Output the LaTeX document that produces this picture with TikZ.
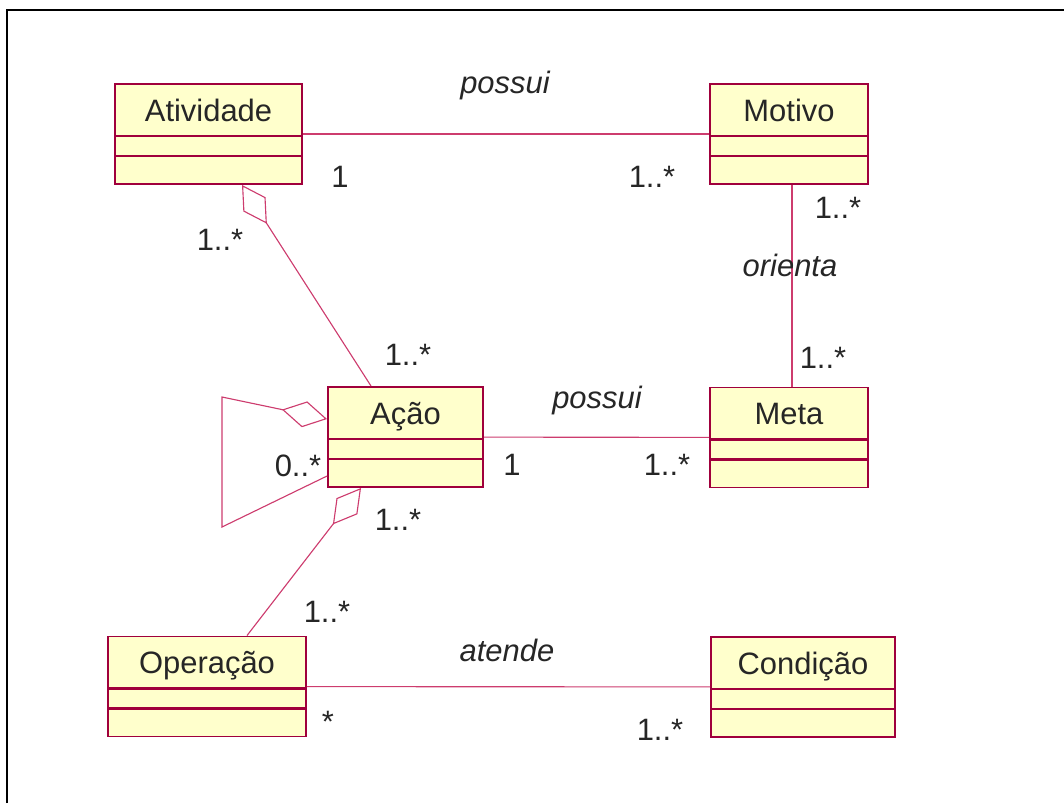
\documentclass[tikz,border=0pt]{standalone}
\usepackage{fontspec}
\setmainfont{Liberation Sans}
\usepackage{tikz}
\usetikzlibrary{arrows.meta}

\newlength\pxl
\setlength\pxl{0.025cm}
\definecolor{umlred}{RGB}{160,0,60}
\definecolor{umlline}{RGB}{205,60,110}
\definecolor{umlfill}{RGB}{255,255,204}

\begin{document}
\begin{tikzpicture}
  [x=0.025cm,y=-0.025cm,
   every node/.style={font=\fontsize{22}{26}\selectfont,text=black!85},
   classbox/.style={draw=umlred,fill=umlfill,line width=1.4pt,inner xsep=0pt,inner ysep=0pt,
     text height=37\pxl,text depth=63\pxl,
     path picture={\draw[umlred,line width=1.6pt]
       ([yshift=-52\pxl]path picture bounding box.north west) -- ([yshift=-52\pxl]path picture bounding box.north east)
       ([yshift=-72\pxl]path picture bounding box.north west) -- ([yshift=-72\pxl]path picture bounding box.north east);}},
   assoc/.style={draw=umlline,line width=0.8pt},
   agg/.style={assoc,-{Diamond[open,length=1.15cm,width=0.66cm]}},
   assocname/.style={font=\fontsize{22}{26}\selectfont\itshape}]
  \useasboundingbox (0,0) rectangle (1064,803);
  \draw [line width=1.4pt] (7,803) -- (7,10) -- (1064,10);

  \node [classbox,minimum width=187\pxl] (atv) at (208.5,134) {Atividade};
  \node [classbox,minimum width=158\pxl] (mot) at (789,134) {Motivo};
  \node [classbox,minimum width=155\pxl] (acao) at (405.5,437) {Ação};
  \node [classbox,minimum width=158\pxl] (meta) at (789,437.5) {Meta};
  \node [classbox,minimum width=198\pxl] (op) at (207,686.5) {Operação};
  \node [classbox,minimum width=184\pxl] (cond) at (803,687) {Condição};

  \foreach \from/\to in {atv/mot,acao/meta,op/cond}
    \draw [assoc] (\from) -- (\to);
  \draw [assoc] ([xshift=3\pxl]mot.south) -- ([xshift=3\pxl]meta.north);

  % aggregations
  \draw [agg] ([xshift=44\pxl]acao.north west) -- ([xshift=128\pxl]atv.south west);
  \draw [agg] ([xshift=140\pxl]op.north west) -- ([xshift=34\pxl]acao.south west);
  \coordinate (lp1) at (222,527);
  \coordinate (lp2) at (222,397);
  \draw [agg] ([yshift=-90\pxl]acao.north west) -- (lp1) -- (lp2) -- ([yshift=-33\pxl]acao.north west);

  % association names
  \node [assocname] (nposs1) at (505,85) {possui};
  \node [assocname] (norient) at (790,265) {orienta};
  \node [assocname] (nposs2) at (597,400) {possui};
  \node [assocname] (natend) at (507,650) {atende};

  % multiplicities
  \node (m1) at (340,177) {1};
  \node (m2) at (652,177) {1..*};
  \node (m3) at (838,208) {1..*};
  \node (m4) at (823,358) {1..*};
  \node (m5) at (220,240) {1..*};
  \node (m6) at (408,355) {1..*};
  \node (m7) at (512,465) {1};
  \node (m8) at (667,465) {1..*};
  \node (m9) at (298,466) {0..*};
  \node (m10) at (398,520) {1..*};
  \node (m11) at (327,612) {1..*};
  \node (m12) at (328,722) {*};
  \node (m13) at (660,730) {1..*};

\end{tikzpicture}
\end{document}
